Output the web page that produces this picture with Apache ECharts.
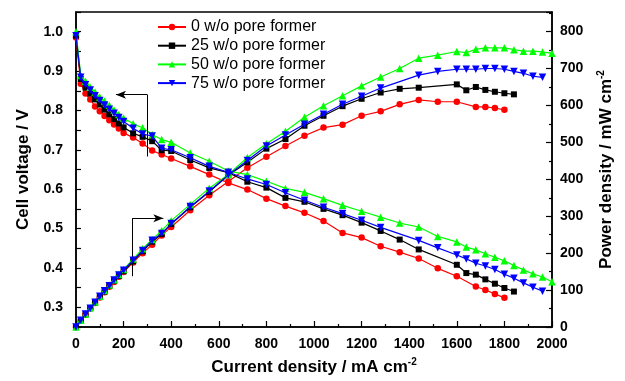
<!DOCTYPE html>
<html>
<head>
<meta charset="utf-8">
<script src="https://cdn.jsdelivr.net/npm/echarts@6/dist/echarts.min.js"></script>
<style>
  html, body { margin: 0; padding: 0; background: #fff; }
  #chart { width: 625px; height: 381px; }
</style>
</head>
<body>
<div id="chart"></div>
<script>
  // legend names
  var names = ['0 w/o pore former', '25 w/o pore former', '50 w/o pore former', '75 w/o pore former'];

  // current density (mA cm-2) of each sample
  var currentRed = [0,20,40,60,80,100,120,140,160,180,200,240,280,320,360,400,480,560,640,720,800,880,960,1040,1120,1200,1280,1360,1440,1520,1600,1680,1720,1760,1800];
  var currentBlack = [0,20,40,60,80,100,120,140,160,180,200,240,280,320,360,400,480,560,640,720,800,880,960,1040,1120,1200,1280,1360,1440,1600,1640,1680,1720,1760,1800,1840];
  var currentGreen = [0,20,40,60,80,100,120,140,160,180,200,240,280,320,360,400,480,560,640,720,800,880,960,1040,1120,1200,1280,1360,1440,1520,1600,1640,1680,1720,1760,1800,1840,1880,1920,1960,2000];
  var currentBlue = [0,20,40,60,80,100,120,140,160,180,200,240,280,320,360,400,480,560,640,720,800,880,960,1040,1120,1200,1280,1440,1520,1600,1640,1680,1720,1760,1800,1840,1880,1920,1960];

  // cell voltage (V)
  var voltRed = [0.985,0.868,0.843,0.828,0.810,0.798,0.786,0.775,0.764,0.754,0.743,0.731,0.716,0.698,0.688,0.678,0.658,0.637,0.616,0.599,0.576,0.557,0.540,0.519,0.489,0.477,0.455,0.440,0.424,0.399,0.379,0.353,0.344,0.334,0.324];
  var voltBlack = [0.99,0.880,0.858,0.843,0.828,0.815,0.802,0.790,0.778,0.767,0.757,0.742,0.733,0.722,0.699,0.697,0.674,0.654,0.642,0.619,0.604,0.578,0.568,0.550,0.534,0.515,0.494,0.472,0.447,0.408,0.387,0.383,0.371,0.360,0.349,0.340];
  var voltGreen = [1.0,0.889,0.874,0.859,0.847,0.834,0.824,0.813,0.801,0.790,0.781,0.766,0.756,0.739,0.726,0.719,0.692,0.671,0.646,0.637,0.620,0.602,0.592,0.576,0.559,0.544,0.529,0.514,0.504,0.480,0.466,0.453,0.446,0.436,0.427,0.418,0.406,0.395,0.385,0.377,0.365];
  var voltBlue = [0.99,0.884,0.865,0.852,0.837,0.825,0.814,0.803,0.793,0.782,0.772,0.755,0.740,0.735,0.704,0.700,0.680,0.658,0.643,0.626,0.612,0.591,0.572,0.554,0.538,0.521,0.503,0.470,0.451,0.433,0.423,0.412,0.405,0.396,0.384,0.374,0.362,0.351,0.341];

  // power density (mW cm-2)
  var powerRed = [0,17,34,50,65,80,94,109,122,136,149,175,200,223,248,271,316,357,394,431,461,490,518,540,548,572,584,603,615,610,610,596,596,593,588];
  var powerBlack = [0,18,34,51,66,82,96,111,125,138,151,178,205,231,252,279,324,366,411,446,483,509,545,572,598,618,635,645,648,657,641,650,642,637,633,630];
  var powerGreen = [0,18,35,52,68,83,99,114,128,142,156,184,212,237,261,288,332,376,413,459,496,530,568,599,626,653,677,700,728,736,746,743,752,756,756,756,751,747,747,745,741];
  var powerBlue = [0,18,35,51,67,83,98,112,127,141,154,181,207,235,253,280,326,368,412,451,490,520,549,576,603,625,647,682,692,698,698,698,700,700,698,692,687,679,676];

  // annotation arrows, in data units [current, voltage]
  var arrowLeft = [[300, 0.840], [300, 0.683], [168, 0.840]];
  var arrowRight = [[236, 0.526], [236, 0.379], [367, 0.526]];

  var font = 'Liberation Sans, Arial, Helvetica, sans-serif';

  function pairs(xs, ys) {
    var out = [];
    for (var i = 0; i < xs.length; i++) out.push([xs[i], ys[i]]);
    return out;
  }

  var styles = [
    { color: '#ff0000', symbol: 'circle', size: 6.5, rotate: 0 },
    { color: '#000000', symbol: 'rect', size: 6, rotate: 0 },
    { color: '#00ff00', symbol: 'triangle', size: 7.5, rotate: 0 },
    { color: '#0000ff', symbol: 'triangle', size: 7.5, rotate: 180 }
  ];
  var currents = [currentRed, currentBlack, currentGreen, currentBlue];
  var volts = [voltRed, voltBlack, voltGreen, voltBlue];
  var powers = [powerRed, powerBlack, powerGreen, powerBlue];

  var series = [];
  for (var k = 0; k < 4; k++) {
    var st = styles[k];
    [0, 1].forEach(function (ax) {
      series.push({
        name: names[k],
        type: 'line',
        yAxisIndex: ax,
        data: pairs(currents[k], ax === 0 ? volts[k] : powers[k]),
        symbol: st.symbol,
        symbolSize: st.size,
        symbolRotate: st.rotate,
        showAllSymbol: true,
        color: st.color,
        lineStyle: { color: st.color, width: 1.2 },
        itemStyle: { color: st.color },
        z: 2 + k
      });
    });
  }

  // arrows drawn as markLines on a hidden helper series
  var arrowStyle = { color: '#000', width: 1, type: 'solid' };
  series.push({
    name: 'arrows',
    type: 'line',
    data: [],
    silent: true,
    markLine: {
      silent: true,
      animation: false,
      label: { show: false },
      lineStyle: arrowStyle,
      symbolSize: [6, 10],
      data: [
        [{ coord: arrowLeft[0], symbol: 'none' }, { coord: arrowLeft[1], symbol: 'none' }],
        [{ coord: arrowLeft[0], symbol: 'none' }, { coord: arrowLeft[2], symbol: 'arrow' }],
        [{ coord: arrowRight[0], symbol: 'none' }, { coord: arrowRight[1], symbol: 'none' }],
        [{ coord: arrowRight[0], symbol: 'none' }, { coord: arrowRight[2], symbol: 'arrow' }]
      ]
    }
  });

  var chart = echarts.init(document.getElementById('chart'), null, { renderer: 'canvas' });

  var option = {
    animation: false,
    backgroundColor: '#fff',
    grid: {
      left: 76, right: 73, top: 12, bottom: 54,
      show: true, borderColor: '#000', borderWidth: 1.5, backgroundColor: 'transparent'
    },
    legend: {
      data: names,
      orient: 'vertical',
      left: 152,
      top: 14,
      itemWidth: 28,
      itemHeight: 8,
      itemGap: 2.7,
      textStyle: { fontFamily: font, fontSize: 16, color: '#000', lineHeight: 16 }
    },
    xAxis: {
      type: 'value',
      min: 0,
      max: 2000,
      interval: 200,
      name: '{a|Current density / mA cm}{s|-2}',
      nameLocation: 'middle',
      nameGap: 30,
      nameTextStyle: {
        rich: {
          a: { fontFamily: font, fontSize: 17, fontWeight: 'bold', color: '#000', lineHeight: 20 },
          s: { fontFamily: font, fontSize: 10, fontWeight: 'bold', color: '#000', verticalAlign: 'top', lineHeight: 20 }
        }
      },
      axisLine: { lineStyle: { color: '#000', width: 1.5 } },
      axisTick: { inside: true, length: 6, lineStyle: { color: '#000', width: 1.2 } },
      minorTick: { show: true, splitNumber: 2, length: 3, lineStyle: { color: '#000', width: 1.2 } },
      splitLine: { show: false },
      axisLabel: {
        fontFamily: font, fontSize: 14, fontWeight: 'bold', color: '#000', margin: 10,
        formatter: function (v) { return String(v); }
      }
    },
    yAxis: [
      {
        type: 'value',
        min: 0.25,
        max: 1.05,
        interval: 0.05,
        name: 'Cell voltage / V',
        nameLocation: 'middle',
        nameGap: 44,
        nameTextStyle: { fontFamily: font, fontSize: 17, fontWeight: 'bold', color: '#000' },
        axisLine: { show: true, lineStyle: { color: '#000', width: 1.5 } },
        axisTick: { inside: true, length: 5, lineStyle: { color: '#000', width: 1.2 } },
        splitLine: { show: false },
        axisLabel: {
          fontFamily: font, fontSize: 14, fontWeight: 'bold', color: '#000', margin: 13,
          formatter: function (v) {
            var n = Math.round(v * 100);
            if (n % 10 !== 0 || n < 30 || n > 100) return '';
            return (n / 100).toFixed(1);
          }
        }
      },
      {
        type: 'value',
        min: 0,
        max: 853,
        interval: 100,
        name: '{a|Power density / mW cm}{s|-2}',
        nameLocation: 'middle',
        nameGap: 44,
        nameRotate: 90,
        nameTextStyle: {
          rich: {
            a: { fontFamily: font, fontSize: 17, fontWeight: 'bold', color: '#000', lineHeight: 20 },
            s: { fontFamily: font, fontSize: 10, fontWeight: 'bold', color: '#000', verticalAlign: 'top', lineHeight: 20 }
          }
        },
        axisLine: { show: true, lineStyle: { color: '#000', width: 1.5 } },
        axisTick: { inside: true, length: 6, lineStyle: { color: '#000', width: 1.2 } },
        minorTick: { show: true, splitNumber: 2, length: 3, lineStyle: { color: '#000', width: 1.2 } },
        splitLine: { show: false },
        axisLabel: {
          fontFamily: font, fontSize: 14, fontWeight: 'bold', color: '#000', margin: 8,
          formatter: function (v) {
            return v % 100 === 0 ? String(v) : '';
          }
        }
      }
    ],
    series: series
  };

  chart.setOption(option);
</script>
</body>
</html>
